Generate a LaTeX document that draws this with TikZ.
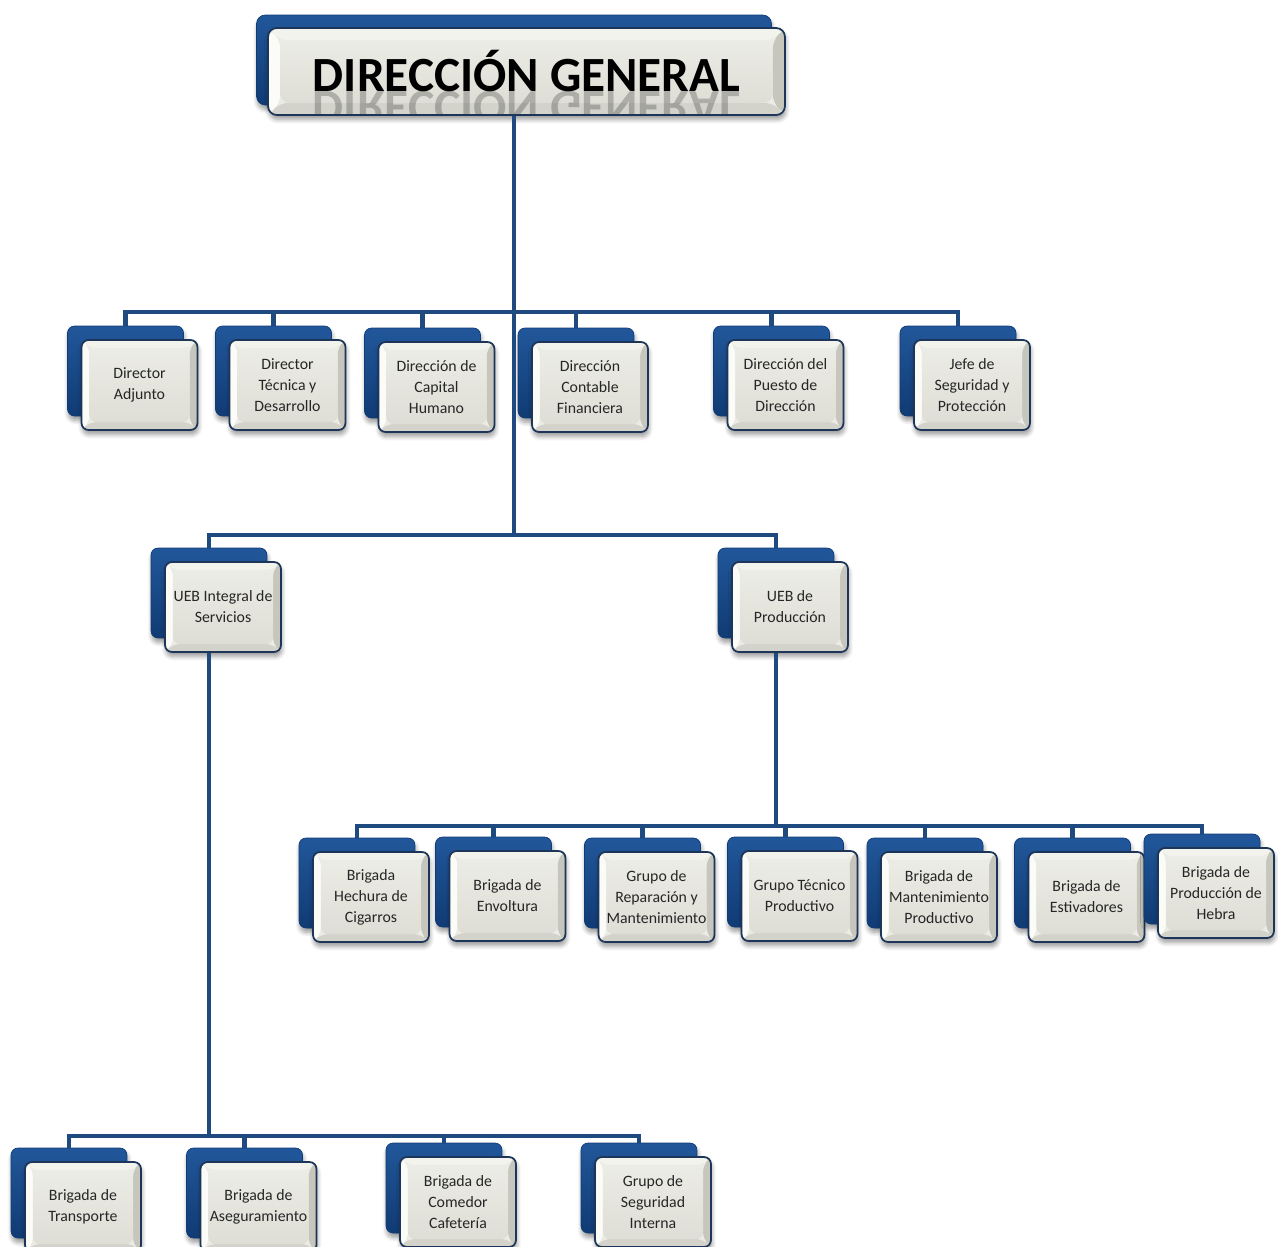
\documentclass[tikz,border=0pt]{standalone}
\usepackage{fontspec}
\setmainfont{Carlito}
\usetikzlibrary{calc,shadows.blur}

\definecolor{conn}{HTML}{1F4A80}
\definecolor{backtop}{HTML}{21579A}
\definecolor{backbot}{HTML}{103B74}
\definecolor{frontline}{HTML}{1C3558}
\definecolor{bevtop}{HTML}{F3F3EE}
\definecolor{bevleft}{HTML}{FBFBF8}
\definecolor{bevright}{HTML}{C6C6BD}
\definecolor{bevbot}{HTML}{D3D3CB}
\definecolor{facetop}{HTML}{ECECE6}
\definecolor{facebot}{HTML}{DEDED6}
\definecolor{unittext}{HTML}{262626}
\definecolor{glow}{HTML}{8CC0F0}

% bevelled face of a front box; #1 is the bevel width
\newcommand\bevel[1]{%
  \path (path picture bounding box.north west) coordinate (o1)
        (path picture bounding box.north east) coordinate (o2)
        (path picture bounding box.south east) coordinate (o3)
        (path picture bounding box.south west) coordinate (o4);
  \coordinate (i1) at ($(o1)+(#1,-#1)$);
  \coordinate (i2) at ($(o2)+(-#1,-#1)$);
  \coordinate (i3) at ($(o3)+(-#1,#1)$);
  \coordinate (i4) at ($(o4)+(#1,#1)$);
  \fill[bevtop]   (o1)--(o2)--(i2)--(i1)--cycle;
  \fill[bevleft]  (o1)--(i1)--(i4)--(o4)--cycle;
  \fill[bevright] (o2)--(o3)--(i3)--(i2)--cycle;
  \fill[bevbot]   (o4)--(i4)--(i3)--(o3)--cycle;
  \shade[top color=facetop, bottom color=facebot] (i1) rectangle (i3);
}
% small highlight in the upper right corner of a back box
\newcommand\glowcorner{%
  \shade[inner color=glow, outer color=backtop, opacity=0.9]
    ($(path picture bounding box.north east)+(-2.5pt,-4pt)$) circle (3.2pt);
}

\tikzset{
  connector/.style={draw=conn, line width=2.3pt, line join=miter},
  unitshadow/.style={blur shadow={shadow xshift=0.5pt, shadow yshift=-2.5pt,
      shadow opacity=40, shadow blur steps=6, shadow blur radius=2.5pt}},
  backbox/.style={rectangle, rounded corners=4pt, minimum width=2.32cm,
      minimum height=1.8cm, top color=backtop, bottom color=backbot,
      draw=backbot, line width=0.4pt, unitshadow, path picture={\glowcorner}},
  frontbox/.style={rectangle, rounded corners=4pt, minimum width=2.32cm,
      minimum height=1.8cm, fill=facetop, draw=frontline, line width=1pt,
      unitshadow, path picture={\bevel{4.5pt}}, align=center,
      font=\fontsize{9}{12}\selectfont, text=unittext, inner sep=1pt},
  titleback/.style={backbox, minimum width=10.3cm, minimum height=1.8cm,
      rounded corners=5pt},
  titlefront/.style={rectangle, rounded corners=5pt, minimum width=10.34cm,
      minimum height=1.74cm, fill=facetop, draw=frontline, line width=1pt,
      unitshadow, font=\fontsize{28}{30}\selectfont\bfseries, text=black,
      path picture={\bevel{7pt}%
        \node[yscale=-1, text=black, text opacity=0.22,
              font=\fontsize{28}{30}\selectfont\bfseries]
          at ($(path picture bounding box.center)+(0,-23pt)$)
          {DIRECCIÓN GENERAL};}},
}

% one unit: back plate and bevelled front box (name, centre x, centre y, text)
\newcommand\orgunit[4]{%
  \node[backbox] (#1b) at ({#2-14},{#3-14}) {};
  \node[frontbox] (#1) at (#2,#3) {#4};
}

\begin{document}
\begin{tikzpicture}[x=0.02cm, y=-0.02cm]
\useasboundingbox (0,0) rectangle (1278,1247);

% levels of the horizontal connector runs
\coordinate (lvA) at (0,312);
\coordinate (lvB) at (0,535);
\coordinate (lvC) at (0,826);
\coordinate (lvD) at (0,1136);

% head of the organisation
\node[titleback] (dgb) at (514,60) {};
\node[titlefront] (dg) at (526.5,71.5) {DIRECCIÓN GENERAL};

% first level
\orgunit{adj}{139.5}{385}{Director\\Adjunto}
\orgunit{tec}{287.5}{385}{Director\\Técnica y\\Desarrollo}
\orgunit{cap}{436.5}{387}{Dirección de\\Capital\\Humano}
\orgunit{con}{590}{387}{Dirección\\Contable\\Financiera}
\orgunit{pue}{785.5}{385}{Dirección del\\Puesto de\\Dirección}
\orgunit{seg}{972}{385}{Jefe de\\Seguridad y\\Protección}

% business units
\orgunit{ser}{223}{607}{UEB Integral de\\Servicios}
\orgunit{pro}{790}{607}{UEB de\\Producción}

% brigades of production
\orgunit{hec}{371}{897}{Brigada\\Hechura de\\Cigarros}
\orgunit{env}{507.5}{896}{Brigada de\\Envoltura}
\orgunit{rep}{656.5}{897}{Grupo de\\Reparación y\\Mantenimiento}
\orgunit{gtp}{799.5}{896}{Grupo Técnico\\Productivo}
\orgunit{man}{939}{897}{Brigada de\\Mantenimiento\\Productivo}
\orgunit{est}{1086.5}{897}{Brigada de\\Estivadores}
\orgunit{heb}{1216}{893}{Brigada de\\Producción de\\Hebra}

% brigades of services
\orgunit{tra}{83}{1207}{Brigada de\\Transporte}
\orgunit{ase}{258.5}{1207}{Brigada de\\Aseguramiento}
\orgunit{com}{458}{1202}{Brigada de\\Comedor\\Cafetería}
\orgunit{gsi}{653}{1202}{Grupo de\\Seguridad\\Interna}

% connectors
\foreach \c in {adj,tec,cap,con,pue,seg}
  \draw[connector] (dgb.center |- dg.south) |- (lvA -| \c b.north) -- (\c b.north);
\foreach \c in {ser,pro}
  \draw[connector] (dgb.center |- dg.south) |- (lvB -| \c b.north) -- (\c b.north);
\foreach \c in {hec,env,rep,gtp,man,est,heb}
  \draw[connector] (prob.center |- pro.south) |- (lvC -| \c b.north) -- (\c b.north);
\foreach \c in {tra,ase,com,gsi}
  \draw[connector] (serb.center |- ser.south) |- (lvD -| \c b.north) -- (\c b.north);
\end{tikzpicture}
\end{document}
